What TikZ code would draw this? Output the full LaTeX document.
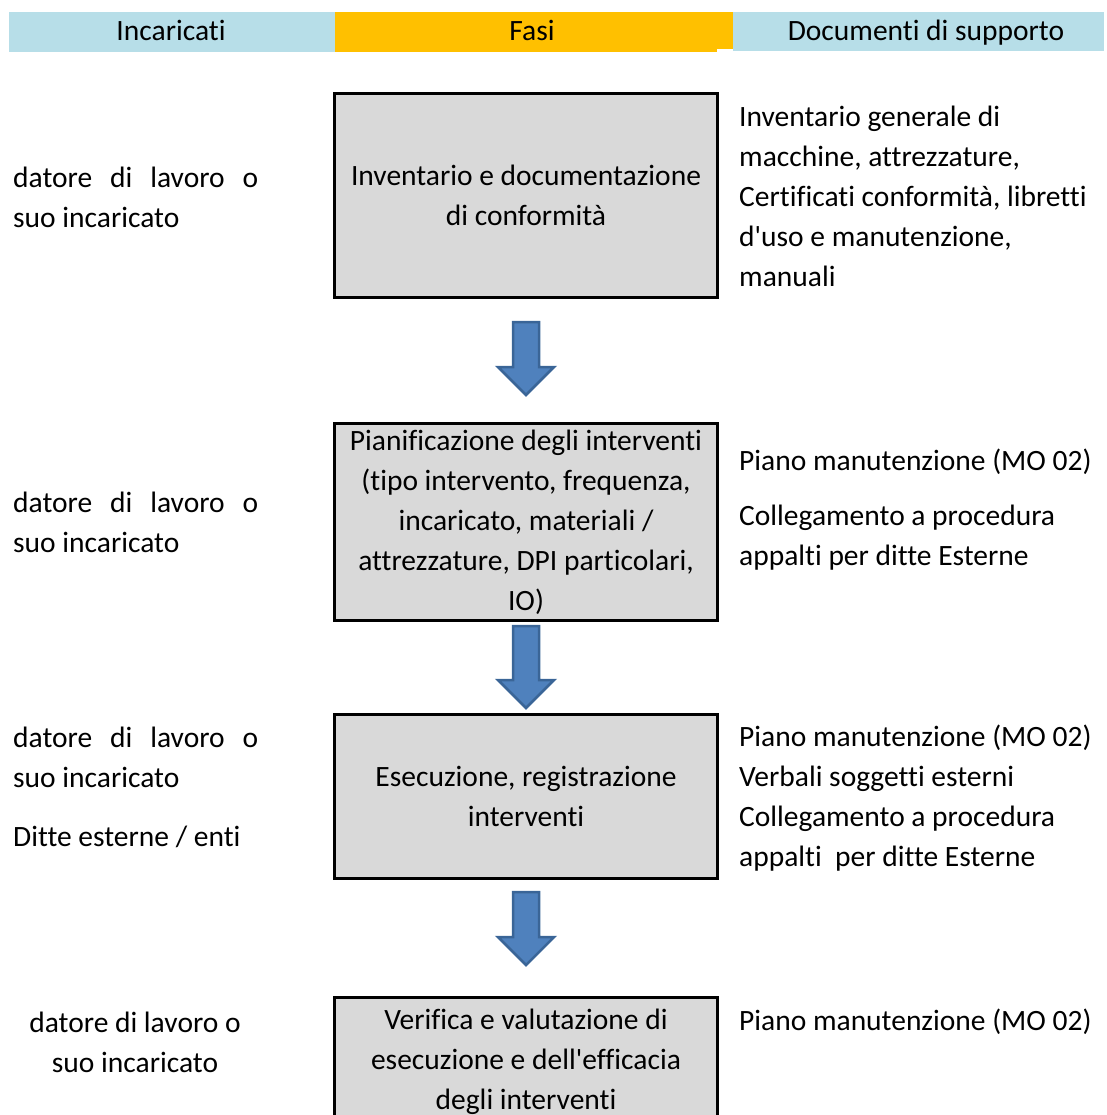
\documentclass[tikz,border=0pt]{standalone}
\usepackage{fontspec}
\setmainfont{Carlito}[Ligatures={TeXOff,CommonOff,ContextualOff}, RawFeature={-liga;-clig}]
\definecolor{headblue}{HTML}{B7DEE8}
\definecolor{headyellow}{HTML}{FFC000}
\definecolor{phasegray}{HTML}{D9D9D9}
\definecolor{arrowblue}{HTML}{4F81BD}
\definecolor{arrowedge}{HTML}{3A6597}
\newcommand{\blockdown}[2]{%
  \draw[blockarrow] (#1) ++(-13,0) -- ++(26,0) -- ++(0,#2-28) -- ++(15,0)
    -- ++(-28,28) -- ++(-28,-28) -- ++(15,0) -- cycle;}
\begin{document}
\begin{tikzpicture}[x=1pt,y=-1pt,
  body/.style={font=\fontsize{29.5}{40}\selectfont, inner sep=0pt},
  headcell/.style={minimum height=40pt, anchor=north west, inner sep=0pt, outer sep=0pt},
  headtext/.style={body, anchor=base},
  phase/.style={body, draw=black, line width=3pt, fill=phasegray,
    minimum width=383pt, text width=380pt, align=flush center},
  who/.style={body, anchor=west, align=left},
  docs/.style={body, anchor=west, align=left},
  blockarrow/.style={fill=arrowblue, draw=arrowedge, line width=2.5pt, line join=miter}]
\useasboundingbox (0,0) rectangle (1106,1115);
\clip (0,0) rectangle (1106,1115);

% column headers
\node[headcell, fill=headblue, minimum width=326.5pt] (hwho) at (8.5,12) {};
\fill[headyellow] (335,46) rectangle (717,52);
\node[headcell, fill=headyellow, minimum width=398pt, minimum height=37pt] (hphase) at (335,12) {};
\node[headcell, fill=headblue, minimum width=371pt, minimum height=39pt] (hdocs) at (733,12) {};
\node[headtext] (thwho) at (171,40.5) {Incaricati};
\node[headtext] (thphase) at (532,40.5) {Fasi};
\node[headtext] (thdocs) at (926,40.5) {Documenti di supporto};

% phases
\node[phase, minimum height=204pt] (p1) at (526,195.5) {Inventario e documentazione\\di conformità};
\node[phase, minimum height=197pt] (p2) at (526,522) {Pianificazione degli interventi\\(tipo intervento, frequenza,\\incaricato, materiali /\\attrezzature, DPI particolari,\\IO)};
\node[phase, minimum height=164pt] (p3) at (526,796.5) {Esecuzione, registrazione\\interventi};
\node[phase, minimum height=129pt] (p4) at (526,1062) {Verifica e valutazione di\\esecuzione e dell'efficacia\\degli interventi};

% flow arrows
\coordinate (a1) at (526,322);
\coordinate (a2) at (526,626);
\coordinate (a3) at (526,892);
\blockdown{a1}{73}
\blockdown{a2}{82}
\blockdown{a3}{73}

% people in charge
\node[who] (w1) at (13,197) {\makebox[245pt][s]{datore di lavoro o}\\suo incaricato};
\node[who] (w2) at (13,522) {\makebox[245pt][s]{datore di lavoro o}\\suo incaricato};
\node[who] (w3) at (13,757) {\makebox[245pt][s]{datore di lavoro o}\\suo incaricato};
\node[who] (w3b) at (13,837) {Ditte esterne / enti};
\node[body, align=center] (w4) at (135,1042) {datore di lavoro o\\suo incaricato};

% supporting documents
\node[docs] (d1) at (739,196) {Inventario generale di\\macchine, attrezzature,\\Certificati conformità, libretti\\d'uso e manutenzione,\\manuali};
\node[docs] (d2) at (739,462) {Piano manutenzione (MO 02)};
\node[docs] (d2b) at (739,538) {Collegamento a procedura\\appalti per ditte Esterne};
\node[docs] (d3) at (739,798) {Piano manutenzione (MO 02)\\Verbali soggetti esterni\\Collegamento a procedura\\appalti~ per ditte Esterne};
\node[docs] (d4) at (739,1022) {Piano manutenzione (MO 02)};
\end{tikzpicture}
\end{document}
